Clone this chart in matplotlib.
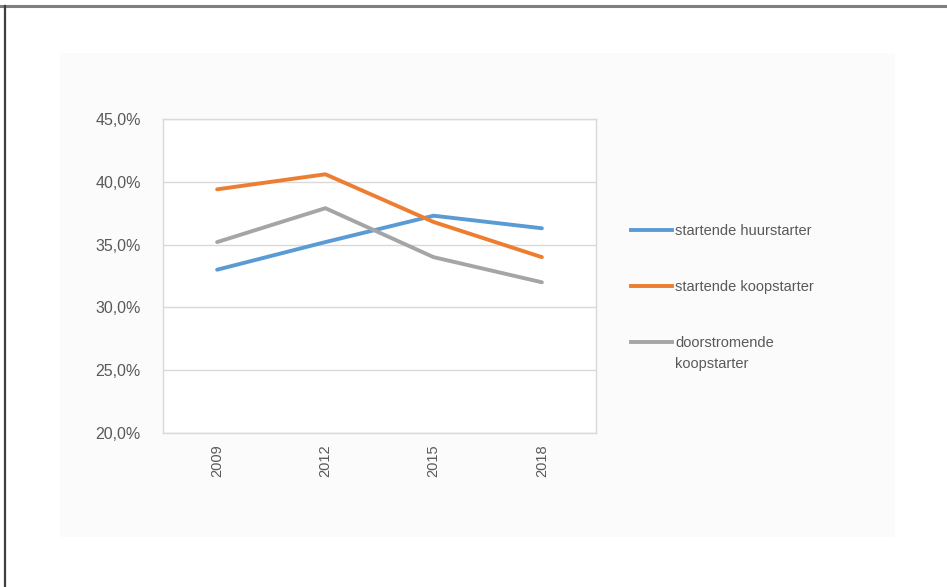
import matplotlib
matplotlib.use('Agg')
import matplotlib.pyplot as plt
from matplotlib.lines import Line2D
from matplotlib.patches import Rectangle
from matplotlib.ticker import FuncFormatter

plt.rcParams['font.family'] = ['Liberation Sans', 'DejaVu Sans']

# data
years = ['2009', '2012', '2015', '2018']
huurstarter = [33.0, 35.2, 37.3, 36.3]
koopstarter = [39.4, 40.6, 36.8, 34.0]
doorstromer = [35.2, 37.9, 34.0, 32.0]
series_labels = ['startende huurstarter', 'startende koopstarter', 'doorstromende\nkoopstarter']
series_colors = ['#5B9BD5', '#ED7D31', '#A5A5A5']

W, H = 947, 587
fig = plt.figure(figsize=(W / 100, H / 100), dpi=100)
fig.patch.set_facecolor('white')

# faint chart panel and the outer border (top + left)
fig.add_artist(Rectangle((60 / W, 1 - 537 / H), 835 / W, 484 / H, transform=fig.transFigure,
                         facecolor='#FBFBFB', edgecolor='none', zorder=0))
fig.add_artist(Line2D([0, 1], [1 - 6 / H] * 2, transform=fig.transFigure, color='#7F7F7F', lw=2.2))
fig.add_artist(Line2D([5 / W] * 2, [0, 1 - 6 / H], transform=fig.transFigure, color='#3F3F3F', lw=1.6))

ax = fig.add_axes([163 / W, 1 - 433 / H, 433 / W, 314 / H])
ax.set_facecolor('white')

x = range(len(years))
for vals, lab, col in zip([huurstarter, koopstarter, doorstromer], series_labels, series_colors):
    ax.plot(x, vals, color=col, lw=2.8, solid_capstyle='round', label=lab)

ax.set_xlim(-0.5, len(years) - 0.5)
ax.set_ylim(20, 45)
ax.set_yticks([20, 25, 30, 35, 40, 45])
ax.yaxis.set_major_formatter(FuncFormatter(lambda v, p: f'{v:.1f}%'.replace('.', ',')))
ax.set_xticks(list(x))
ax.set_xticklabels(years, rotation=90)
ax.grid(axis='y', color='#D9D9D9', lw=1)
ax.set_axisbelow(True)
for s in ax.spines.values():
    s.set_color('#D9D9D9')
    s.set_linewidth(1)
ax.tick_params(length=0, colors='#595959')
ax.tick_params(axis='y', pad=16, labelsize=11.5)
ax.tick_params(axis='x', pad=8, labelsize=10.5)

# legend, drawn by hand so the handle sits at the first text line
leg_y = [230, 286, 342]
for lab, col, yy in zip(series_labels, series_colors, leg_y):
    fig.add_artist(Line2D([631 / W, 672 / W], [1 - yy / H] * 2, transform=fig.transFigure,
                          color=col, lw=2.8))
    fig.text(675 / W, 1 - (yy - 6) / H, lab, color='#595959', fontsize=10.5,
             va='top', ha='left', linespacing=1.65)

fig.savefig('out.png', dpi=100)
